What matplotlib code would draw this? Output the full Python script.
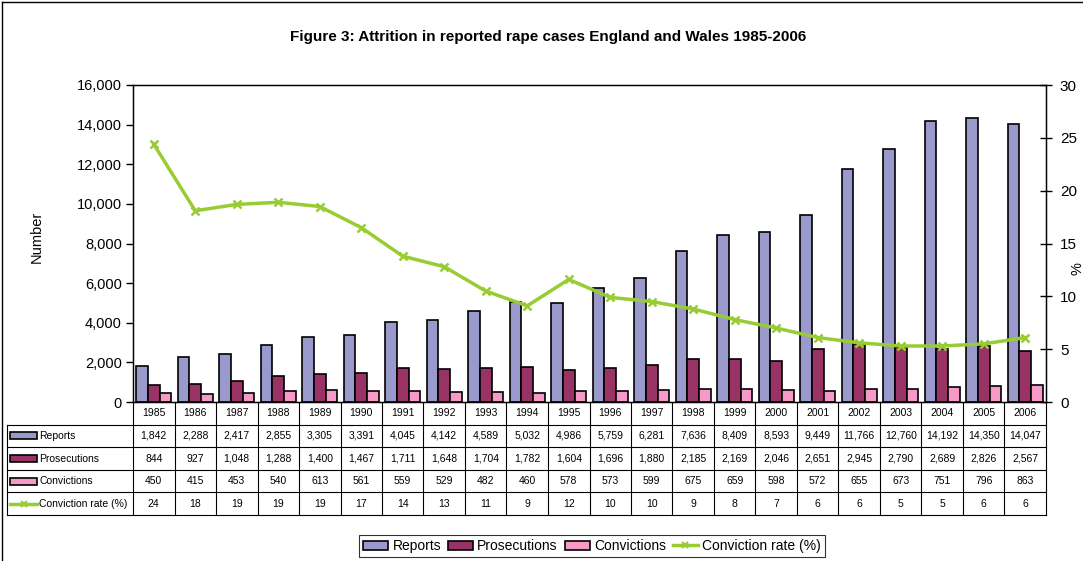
import matplotlib.pyplot as plt
import matplotlib.transforms as mtransforms
from matplotlib.patches import Rectangle
from matplotlib.lines import Line2D
import numpy as np

plt.rcParams['font.family'] = ['Liberation Sans', 'DejaVu Sans']

years = [str(y) for y in range(1985, 2007)]
reports = [1842, 2288, 2417, 2855, 3305, 3391, 4045, 4142, 4589, 5032, 4986,
           5759, 6281, 7636, 8409, 8593, 9449, 11766, 12760, 14192, 14350, 14047]
prosecutions = [844, 927, 1048, 1288, 1400, 1467, 1711, 1648, 1704, 1782, 1604,
                1696, 1880, 2185, 2169, 2046, 2651, 2945, 2790, 2689, 2826, 2567]
convictions = [450, 415, 453, 540, 613, 561, 559, 529, 482, 460, 578,
               573, 599, 675, 659, 598, 572, 655, 673, 751, 796, 863]
conv_rate = [24.4, 18.1, 18.7, 18.9, 18.5, 16.5, 13.8, 12.8, 10.5, 9.1, 11.6,
             9.9, 9.5, 8.8, 7.8, 7.0, 6.1, 5.6, 5.3, 5.3, 5.5, 6.1]

c_rep = '#9999cc'
c_pro = '#993366'
c_con = '#f79ac8'
c_rate = '#99cc33'

W, H = 1083, 561
fig = plt.figure(figsize=(W / 100, H / 100), dpi=100)

def fx(px):
    return px / W

def fy(py):
    return 1 - py / H

ax_l, ax_r, ax_t, ax_b = 133, 1046, 85, 402
ax = fig.add_axes([fx(ax_l), fy(ax_b), fx(ax_r - ax_l), (ax_b - ax_t) / H])
x = np.arange(len(years))
bw = 0.28
ax.bar(x - bw, reports, bw, color=c_rep, edgecolor='black', linewidth=1.2)
ax.bar(x, prosecutions, bw, color=c_pro, edgecolor='black', linewidth=1.2)
ax.bar(x + bw, convictions, bw, color=c_con, edgecolor='black', linewidth=1.2)
ax.set_xlim(-0.5, len(years) - 0.5)
ax.set_ylim(0, 16000)
ax.set_yticks(range(0, 16001, 2000))
ax.set_yticklabels([f'{v:,}' for v in range(0, 16001, 2000)], fontsize=10.5)
ax.set_xticks([])
ax.tick_params(axis='y', direction='out', length=5, width=1, pad=3)
for s in ax.spines.values():
    s.set_linewidth(1)
ax.set_ylabel('Number', fontsize=10.5)
ax.yaxis.set_label_coords((44 - ax_l) / (ax_r - ax_l), 0.52)

ax2 = ax.twinx()
ax2.plot(x, conv_rate, color=c_rate, linewidth=2.5, marker='x',
         markersize=6, markeredgewidth=1.8)
ax2.set_ylim(0, 30)
ax2.set_yticks(range(0, 31, 5))
ax2.tick_params(axis='y', direction='inout', length=8, width=1, labelsize=11, pad=6)
ax2.set_ylabel('%', fontsize=10.5)
ax2.yaxis.set_label_coords((1071 - ax_l) / (ax_r - ax_l), 0.42)

# data table under the plot
row_h = 22.6
trans = mtransforms.blended_transform_factory(ax.transData, fig.transFigure)
rows = [reports, prosecutions, convictions, conv_rate]
labels = ['Reports', 'Prosecutions', 'Convictions', 'Conviction rate (%)']
colors = [c_rep, c_pro, c_con, c_rate]
tbl_bottom = ax_b + 5 * row_h
lkw = dict(color='black', linewidth=0.8, clip_on=False)
for r in range(1, 6):
    yy = fy(ax_b + r * row_h)
    fig.add_artist(Line2D([fx(7), fx(ax_r)], [yy, yy], transform=fig.transFigure, **lkw))
for i in range(len(years) + 1):
    fig.add_artist(Line2D([i - 0.5, i - 0.5], [fy(ax_b), fy(tbl_bottom)], transform=trans, **lkw))
fig.add_artist(Line2D([fx(7), fx(7)], [fy(ax_b + row_h), fy(tbl_bottom)],
                      transform=fig.transFigure, **lkw))

for i, yr in enumerate(years):
    fig.text(i, fy(ax_b + 0.5 * row_h), yr, transform=trans, ha='center', va='center', fontsize=7.5)

for r, (vals, lab, col) in enumerate(zip(rows, labels, colors)):
    yc = fy(ax_b + (r + 1.5) * row_h)
    for i, v in enumerate(vals):
        s = f'{v:,}' if r < 3 else str(int(np.floor(v + 0.5)))
        fig.text(i, yc, s, transform=trans, ha='center', va='center', fontsize=7.5)
    if r < 3:
        fig.add_artist(Rectangle((fx(10), yc - 3.5 / H), fx(27), 7 / H, transform=fig.transFigure,
                                 facecolor=col, edgecolor='black', linewidth=1.2))
    else:
        fig.add_artist(Line2D([fx(10), fx(37)], [yc, yc], transform=fig.transFigure,
                              color=col, linewidth=2.5))
        fig.add_artist(Line2D([fx(23.5)], [yc], transform=fig.transFigure, color=col,
                              marker='x', markersize=5, markeredgewidth=1.5, linestyle='none'))
    fig.text(fx(39), yc, lab, ha='left', va='center', fontsize=7.5)

fig.text(fx(548), fy(37), 'Figure 3: Attrition in reported rape cases England and Wales 1985-2006',
         ha='center', va='center', fontsize=11, fontweight='bold')

handles = [Rectangle((0, 0), 1, 1, facecolor=c_rep, edgecolor='black', linewidth=1.2),
           Rectangle((0, 0), 1, 1, facecolor=c_pro, edgecolor='black', linewidth=1.2),
           Rectangle((0, 0), 1, 1, facecolor=c_con, edgecolor='black', linewidth=1.2),
           Line2D([0], [0], color=c_rate, linewidth=2.5, marker='x', markersize=5,
                  markeredgewidth=1.5)]
leg = fig.legend(handles, labels, loc='center', bbox_to_anchor=(fx(592), fy(546)),
                 ncol=4, fontsize=10, frameon=True, fancybox=False, edgecolor='black',
                 handlelength=1.8, handleheight=0.6, handletextpad=0.3, columnspacing=0.5,
                 borderpad=0.3)
leg.get_frame().set_linewidth(0.8)

# outer chart border
fig.add_artist(Line2D([fx(2), fx(2)], [0, fy(2)], transform=fig.transFigure, color='black', linewidth=1))
fig.add_artist(Line2D([fx(2), 1], [fy(2), fy(2)], transform=fig.transFigure, color='black', linewidth=1))

fig.savefig('out.png', dpi=100)
